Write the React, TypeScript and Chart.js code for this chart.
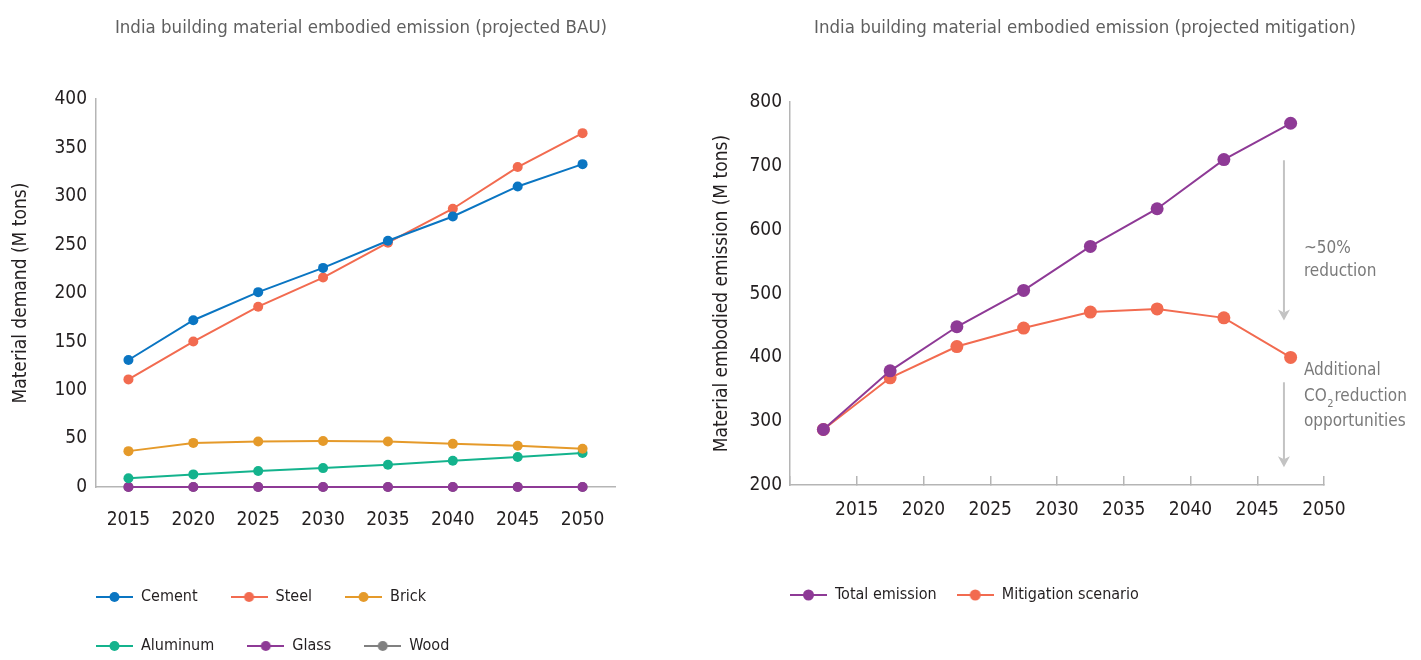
import React, { useEffect, useRef } from 'react';
import { Chart, registerables } from 'chart.js';

Chart.register(...registerables);

const FONT = "'Liberation Sans Narrow', 'Arial Narrow', 'DejaVu Sans Condensed', sans-serif";
const TEXT = '#231f20';
const TITLE_GREY = '#5f5f5f';
const NOTE_GREY = '#7a7a7a';
const AXIS_GREY = '#b5b5b5';
const ARROW_GREY = '#c3c3c3';

// ---- Left chart: projected BAU material demand (M tons) ----
const bauYears = ['2015', '2020', '2025', '2030', '2035', '2040', '2045', '2050'];
const cementDemand = [131, 172, 201, 226, 254, 279, 310, 333];
const steelDemand = [111, 150, 186, 216, 252, 287, 330, 365];
const brickDemand = [37, 45.5, 47, 47.5, 47, 44.5, 42.5, 39.5];
const aluminumDemand = [9, 13, 16.5, 19.5, 23, 27, 31, 35];
const glassDemand = [0, 0, 0, 0, 0, 0, 0, 0];
const woodDemand = [0, 0, 0, 0, 0, 0, 0, 0];
const bauLabels = ['Cement', 'Steel', 'Brick', 'Aluminum', 'Glass', 'Wood'];
const bauColors = ['#0a75c2', '#f26b50', '#e59a2a', '#14b38d', '#8e3a96', '#808080'];
const bauValues = [cementDemand, steelDemand, brickDemand, aluminumDemand, glassDemand, woodDemand];

// ---- Right chart: projected mitigation embodied emission (M tons) ----
const periodMid = [2012.5, 2017.5, 2022.5, 2027.5, 2032.5, 2037.5, 2042.5, 2047.5];
const totalEmission = [287, 379, 448, 505, 574, 633, 710, 767];
const mitigationScenario = [287, 368, 417, 446, 471, 476, 462, 400];
const mitLabels = ['Total emission', 'Mitigation scenario'];
const mitColors = ['#8e3a96', '#f26b50'];

// annotation (data units)
const annotationYear = 2047;
const arrowSpans = [
  [709, 458],
  [361, 228],
];

function makeMarker(color: string, radius: number) {
  const c = document.createElement('canvas');
  c.width = 37;
  c.height = 14;
  const g = c.getContext('2d')!;
  g.strokeStyle = color;
  g.lineWidth = 2;
  g.beginPath();
  g.moveTo(0, 7);
  g.lineTo(37, 7);
  g.stroke();
  g.fillStyle = color;
  g.beginPath();
  g.arc(18.5, 7, radius, 0, Math.PI * 2);
  g.fill();
  return c;
}

const legendAlign = {
  id: 'legendAlign',
  afterLayout(chart: any) {
    const lg = chart.legend;
    if (lg) {
      const pad = lg.options.labels.padding;
      const shift = lg.left - (chart.chartArea.left - pad);
      lg.left -= shift;
      lg.right -= shift;
    }
  },
};

const annotations = {
  id: 'annotations',
  afterDatasetsDraw(chart: any) {
    const { ctx, scales } = chart;
    const x = scales.x;
    const y = scales.y;
    const ax = x.getPixelForValue(annotationYear);
    ctx.save();
    ctx.strokeStyle = ARROW_GREY;
    ctx.fillStyle = ARROW_GREY;
    ctx.lineWidth = 2;
    for (const [from, to] of arrowSpans) {
      const y0 = y.getPixelForValue(from);
      const y1 = y.getPixelForValue(to);
      ctx.beginPath();
      ctx.moveTo(ax, y0);
      ctx.lineTo(ax, y1 - 8);
      ctx.stroke();
      ctx.beginPath();
      ctx.moveTo(ax - 6, y1 - 11);
      ctx.lineTo(ax, y1 - 8);
      ctx.lineTo(ax + 6, y1 - 11);
      ctx.lineTo(ax, y1);
      ctx.closePath();
      ctx.fill();
    }
    const tx = ax + 20;
    ctx.fillStyle = NOTE_GREY;
    ctx.textAlign = 'left';
    ctx.textBaseline = 'middle';
    ctx.font = `17px ${FONT}`;
    ctx.fillText('~50%', tx, y.getPixelForValue(571));
    ctx.fillText('reduction', tx, y.getPixelForValue(534));
    ctx.fillText('Additional', tx, y.getPixelForValue(380));
    const coY = y.getPixelForValue(338);
    ctx.fillText('CO', tx, coY);
    const coW = ctx.measureText('CO').width;
    ctx.font = `11px ${FONT}`;
    ctx.fillText('2', tx + coW + 0.5, coY + 7);
    const twoW = ctx.measureText('2').width;
    ctx.font = `17px ${FONT}`;
    ctx.fillText('reduction', tx + coW + twoW + 1.5, coY);
    ctx.fillText('opportunities', tx, y.getPixelForValue(299));
    ctx.restore();
  },
};

function tickFont() {
  return { family: FONT, size: 19 };
}

function legendLabels(markers: HTMLCanvasElement[], padding: number) {
  return {
    usePointStyle: true,
    pointStyleWidth: 37,
    padding,
    color: TEXT,
    font: { family: FONT, size: 16 },
    generateLabels: (ch: any) =>
      (Chart.defaults.plugins.legend.labels.generateLabels as any)(ch).map((it: any) => ({
        ...it,
        pointStyle: markers[it.datasetIndex],
        fontColor: TEXT,
      })),
  };
}

function BauChart() {
  const ref = useRef<HTMLCanvasElement>(null);
  useEffect(() => {
    const markers = bauColors.map((c) => makeMarker(c, 5));
    const chart = new Chart(ref.current!, {
      type: 'line',
      data: {
        labels: bauYears,
        datasets: bauLabels.map((label, i) => ({
          label,
          data: bauValues[i],
          borderColor: bauColors[i],
          backgroundColor: bauColors[i],
          pointBackgroundColor: bauColors[i],
          pointBorderWidth: 0,
          pointRadius: 5,
          borderWidth: 2,
          tension: 0,
          clip: false,
        })),
      },
      options: {
        responsive: false,
        animation: false,
        layout: { padding: { left: 0, right: 0, top: 0, bottom: 16 } },
        scales: {
          x: {
            type: 'category',
            offset: true,
            grid: { display: false, drawTicks: false },
            border: { display: true, color: AXIS_GREY, width: 1.5 },
            ticks: { font: tickFont(), color: TEXT, padding: 22, maxRotation: 0 },
            afterFit: (s: any) => {
              s.height = 69;
            },
          },
          y: {
            min: 0,
            max: 400,
            grid: { display: false, drawTicks: false },
            border: { display: true, color: AXIS_GREY, width: 1.5 },
            ticks: { stepSize: 50, font: tickFont(), color: TEXT, padding: 9 },
            title: {
              display: true,
              text: 'Material demand (M tons)',
              font: { family: FONT, size: 19 },
              color: TEXT,
              padding: { top: 9.5, bottom: 0 },
            },
            afterFit: (s: any) => {
              s.width = 96;
            },
          },
          spacer: {
            type: 'linear',
            position: 'right',
            display: true,
            grid: { display: false, drawTicks: false },
            border: { display: false },
            ticks: { display: false },
            afterFit: (s: any) => {
              s.width = 107;
            },
          },
        },
        plugins: {
          title: {
            display: true,
            text: 'India building material embodied emission (projected BAU)',
            font: { family: FONT, size: 18.5, weight: 'normal' },
            color: TITLE_GREY,
            padding: { top: 17, bottom: 60 },
          },
          legend: {
            display: true,
            position: 'bottom',
            align: 'start',
            fullSize: false,
            labels: legendLabels(markers, 33),
          },
          tooltip: { enabled: false },
        },
      } as any,
      plugins: [legendAlign],
    });
    return () => chart.destroy();
  }, []);
  return <canvas ref={ref} width={722} height={680} />;
}

function MitigationChart() {
  const ref = useRef<HTMLCanvasElement>(null);
  useEffect(() => {
    const markers = mitColors.map((c) => makeMarker(c, 5.5));
    const series = [totalEmission, mitigationScenario];
    const chart = new Chart(ref.current!, {
      type: 'line',
      data: {
        datasets: mitLabels.map((label, i) => ({
          label,
          data: series[i].map((v, k) => ({ x: periodMid[k], y: v })),
          borderColor: mitColors[i],
          backgroundColor: mitColors[i],
          pointBackgroundColor: mitColors[i],
          pointBorderWidth: 0,
          pointRadius: 6.5,
          borderWidth: 2,
          tension: 0,
        })),
      },
      options: {
        responsive: false,
        animation: false,
        layout: { padding: { left: 0, right: 0, top: 0, bottom: 67 } },
        scales: {
          x: {
            type: 'linear',
            min: 2010,
            max: 2050,
            grid: {
              display: true,
              drawOnChartArea: false,
              drawTicks: true,
              tickLength: -9,
              color: AXIS_GREY,
              lineWidth: 1.5,
            },
            border: { display: true, color: AXIS_GREY, width: 1.5 },
            ticks: {
              stepSize: 5,
              font: tickFont(),
              color: TEXT,
              padding: 23,
              maxRotation: 0,
              callback: (v: any) => (v === 2010 ? '' : String(v)),
            },
            afterFit: (s: any) => {
              s.height = 82;
            },
          },
          y: {
            min: 200,
            max: 800,
            grid: { display: false, drawTicks: false },
            border: { display: true, color: AXIS_GREY, width: 1.5 },
            ticks: { stepSize: 100, font: tickFont(), color: TEXT, padding: 8 },
            title: {
              display: true,
              text: 'Material embodied emission (M tons)',
              font: { family: FONT, size: 19 },
              color: TEXT,
              padding: { top: 10.5, bottom: 0 },
            },
            afterFit: (s: any) => {
              s.width = 90;
            },
          },
          spacer: {
            type: 'linear',
            position: 'right',
            display: true,
            grid: { display: false, drawTicks: false },
            border: { display: false },
            ticks: { display: false },
            afterFit: (s: any) => {
              s.width = 146;
            },
          },
        },
        plugins: {
          title: {
            display: true,
            text: 'India building material embodied emission (projected mitigation)',
            font: { family: FONT, size: 18.5, weight: 'normal' },
            color: TITLE_GREY,
            padding: { top: 17, bottom: 63 },
          },
          legend: {
            display: true,
            position: 'bottom',
            align: 'start',
            fullSize: false,
            labels: legendLabels(markers, 20),
          },
          tooltip: { enabled: false },
        },
      } as any,
      plugins: [legendAlign, annotations],
    });
    return () => chart.destroy();
  }, []);
  return <canvas ref={ref} width={770} height={680} />;
}

export default function App() {
  return (
    <div
      style={{
        position: 'fixed',
        left: 0,
        top: 0,
        width: 1421,
        height: 660,
        overflow: 'hidden',
        background: '#ffffff',
      }}
    >
      <div style={{ position: 'absolute', left: 0, top: 0, width: 722, height: 680 }}>
        <BauChart />
      </div>
      <div style={{ position: 'absolute', left: 700, top: 0, width: 770, height: 680 }}>
        <MitigationChart />
      </div>
    </div>
  );
}
